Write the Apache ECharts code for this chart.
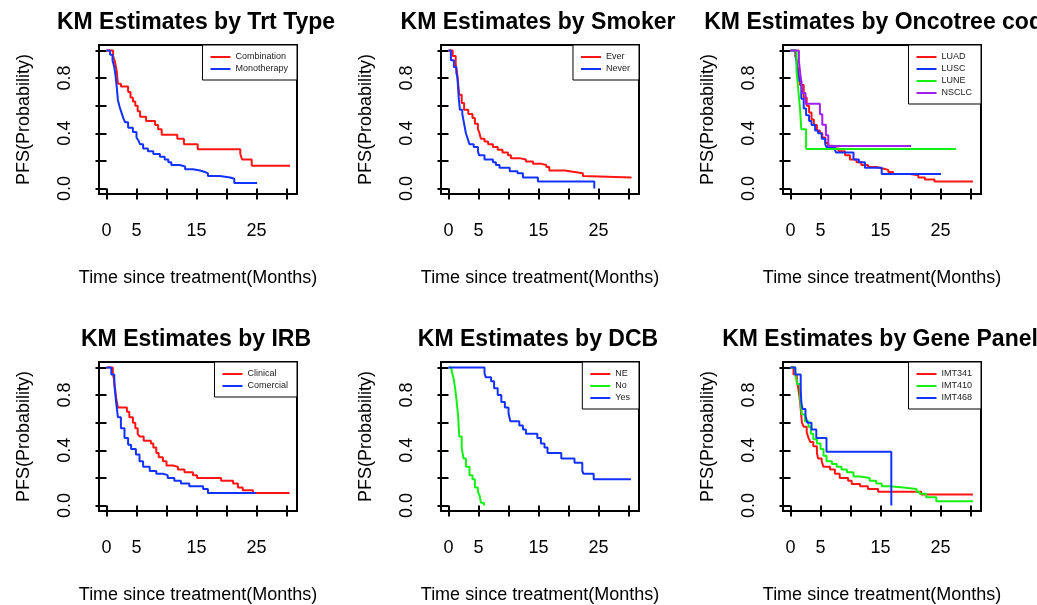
<!DOCTYPE html>
<html>
<head>
<meta charset="utf-8">
<script src="https://cdn.jsdelivr.net/npm/echarts@6/dist/echarts.min.js"></script>
<style>
  html, body { margin: 0; padding: 0; background: #fff; }
  #main { width: 1037px; height: 605px; }
</style>
</head>
<body>
<div id="main"></div>
<script>
// KM step points: [months, PFS probability]
const trtCombination = [[0,1],[1.1,0.96],[1.4,0.92],[1.7,0.85],[1.9,0.76],[2.4,0.74],[3.6,0.7],[4.0,0.66],[4.4,0.63],[4.8,0.6],[5.2,0.56],[5.6,0.52],[6.6,0.49],[8.1,0.46],[8.6,0.43],[9.2,0.39],[11.8,0.36],[12.9,0.32],[15.2,0.285],[22.3,0.25],[22.6,0.21],[24.2,0.165],[30.6,0.165]];
const trtMonotherapy = [[0,1],[0.6,0.97],[1.0,0.93],[1.3,0.88],[1.5,0.82],[1.7,0.74],[1.9,0.64],[2.2,0.59],[2.5,0.55],[2.8,0.51],[3.1,0.48],[3.6,0.44],[4.4,0.41],[5.0,0.37],[5.3,0.35],[5.6,0.32],[6.1,0.29],[6.9,0.27],[7.8,0.25],[8.9,0.23],[9.7,0.21],[10.3,0.19],[10.8,0.17],[12.2,0.16],[13.1,0.14],[14.4,0.13],[15.6,0.12],[16.4,0.11],[16.9,0.09],[18.9,0.08],[20.6,0.07],[21.3,0.04],[25.1,0.04]];

const smokerEver = [[0,1],[0.7,0.96],[1.2,0.9],[1.4,0.85],[1.6,0.76],[1.8,0.68],[2.2,0.62],[2.6,0.57],[3.3,0.54],[4.0,0.51],[4.4,0.47],[4.9,0.43],[5.1,0.41],[5.4,0.36],[6.0,0.34],[6.6,0.32],[7.4,0.3],[8.2,0.28],[9.0,0.26],[9.9,0.24],[10.4,0.22],[11.8,0.21],[12.9,0.195],[14.1,0.18],[15.4,0.17],[16.3,0.155],[16.8,0.13],[19.4,0.12],[21.0,0.11],[22.4,0.09],[22.7,0.08],[30.5,0.08]];
const smokerNever = [[0,1],[0.4,0.93],[0.9,0.88],[1.3,0.84],[1.5,0.8],[1.7,0.66],[1.9,0.57],[2.3,0.54],[2.6,0.47],[2.9,0.4],[3.2,0.36],[3.5,0.32],[4.2,0.3],[4.9,0.27],[5.1,0.24],[6.0,0.21],[7.4,0.19],[7.9,0.17],[8.5,0.15],[10.2,0.125],[11.5,0.11],[12.4,0.08],[14.9,0.05],[24.3,0]];

const oncoLUAD = [[0,1],[0.8,0.96],[1.05,0.93],[1.3,0.85],[1.6,0.75],[2.2,0.66],[2.7,0.6],[3.1,0.55],[3.5,0.5],[3.9,0.46],[4.4,0.42],[4.9,0.4],[5.3,0.37],[5.8,0.33],[6.3,0.31],[7.1,0.29],[8.0,0.27],[9.1,0.24],[9.9,0.21],[11.0,0.19],[11.8,0.17],[12.9,0.155],[14.3,0.145],[15.4,0.135],[16.3,0.12],[17.1,0.105],[19.9,0.095],[21.3,0.08],[22.4,0.065],[24.0,0.05],[30.4,0.05]];
const oncoLUSC = [[0,1],[0.9,0.95],[1.1,0.88],[1.4,0.78],[1.8,0.65],[2.2,0.58],[2.6,0.53],[3.1,0.49],[3.5,0.46],[4.1,0.42],[4.6,0.4],[5.2,0.36],[5.8,0.32],[6.0,0.3],[7.4,0.28],[7.6,0.26],[10.5,0.21],[11.4,0.19],[12.4,0.15],[15.2,0.105],[25.1,0.105]];
const oncoLUNE = [[0,1],[1.0,0.857],[1.3,0.714],[1.6,0.571],[1.8,0.429],[2.6,0.286],[27.6,0.286]];
const oncoNSCLC = [[0,1],[1.4,0.923],[1.6,0.846],[1.8,0.769],[2.0,0.692],[2.5,0.615],[4.9,0.538],[5.3,0.462],[5.9,0.385],[6.3,0.308],[20.1,0.308]];

const irbClinical = [[0,1],[1.05,0.96],[1.3,0.9],[1.6,0.78],[1.9,0.71],[3.4,0.68],[3.8,0.64],[4.4,0.6],[4.8,0.56],[5.2,0.52],[5.5,0.5],[6.2,0.47],[7.4,0.45],[7.8,0.42],[8.3,0.38],[8.7,0.35],[9.4,0.32],[10.0,0.29],[11.1,0.28],[11.9,0.26],[13.0,0.24],[14.4,0.22],[15.1,0.2],[19.1,0.18],[21.1,0.16],[21.9,0.13],[22.7,0.11],[24.4,0.09],[30.5,0.09]];
const irbComercial = [[0,1],[0.8,0.95],[1.3,0.88],[1.6,0.75],[1.9,0.64],[2.4,0.56],[3.0,0.49],[3.6,0.44],[4.1,0.41],[4.9,0.37],[5.5,0.32],[6.1,0.28],[7.2,0.25],[8.3,0.23],[9.4,0.22],[10.2,0.2],[11.3,0.18],[12.4,0.16],[13.8,0.14],[16.1,0.12],[16.9,0.09],[24.9,0.09]];

const dcbNE = [];
const dcbNo = [[0,1],[0.5,0.98],[0.8,0.93],[1.1,0.85],[1.3,0.78],[1.6,0.65],[1.8,0.5],[2.2,0.42],[2.5,0.34],[2.9,0.28],[3.5,0.22],[4.0,0.19],[4.4,0.13],[4.9,0.1],[5.2,0.07],[5.4,0.02],[5.9,0]];
const dcbYes = [[0,1],[6.0,0.96],[6.2,0.93],[7.1,0.9],[7.6,0.85],[8.2,0.8],[8.8,0.75],[9.4,0.71],[10.0,0.67],[10.3,0.61],[11.8,0.58],[12.4,0.55],[12.9,0.52],[14.8,0.49],[15.4,0.45],[16.0,0.42],[16.5,0.38],[18.8,0.34],[21.0,0.31],[22.3,0.25],[22.5,0.23],[24.2,0.19],[30.4,0.19]];

const geneIMT341 = [[0,1],[0.5,0.95],[1.05,0.9],[1.3,0.85],[1.6,0.75],[1.9,0.6],[2.2,0.57],[2.7,0.53],[3.0,0.49],[3.3,0.46],[3.8,0.43],[4.4,0.38],[4.6,0.34],[5.2,0.32],[5.5,0.28],[6.6,0.26],[7.4,0.23],[8.2,0.2],[9.6,0.18],[10.2,0.155],[11.6,0.14],[12.9,0.12],[14.6,0.1],[21.8,0.08],[30.4,0.08]];
const geneIMT410 = [[0,1],[0.8,0.95],[1.1,0.88],[1.6,0.78],[1.9,0.66],[2.4,0.61],[3.0,0.57],[3.4,0.52],[3.8,0.48],[4.4,0.45],[5.0,0.41],[5.5,0.36],[6.0,0.32],[6.9,0.3],[7.7,0.28],[8.5,0.26],[9.4,0.24],[10.5,0.21],[11.6,0.2],[13.2,0.18],[14.3,0.16],[15.2,0.14],[16.5,0.13],[18.8,0.12],[21.0,0.1],[21.5,0.085],[22.6,0.06],[24.3,0.03],[30.4,0.03]];
const geneIMT468 = [[0,1],[0.8,0.95],[1.7,0.85],[1.8,0.75],[2.0,0.7],[2.5,0.65],[2.8,0.6],[3.5,0.55],[4.3,0.49],[6.0,0.39],[16.8,0]];

const xTicks = [0, 5, 10, 15, 20, 25, 30];
const xLabels = [0, 5, 15, 25];
const yTicks = [0, 0.2, 0.4, 0.6, 0.8, 1.0];
const yLabels = [0, 0.4, 0.8];

const RED = '#ff1414', BLUE = '#1432ff', GREEN = '#14f014', PURPLE = '#a020f0';

const panels = [
  { title: 'KM Estimates by Trt Type', curves: [['Combination', trtCombination, RED], ['Monotherapy', trtMonotherapy, BLUE]] },
  { title: 'KM Estimates by Smoker', curves: [['Ever', smokerEver, RED], ['Never', smokerNever, BLUE]] },
  { title: 'KM Estimates by Oncotree code', curves: [['LUAD', oncoLUAD, RED], ['LUSC', oncoLUSC, BLUE], ['LUNE', oncoLUNE, GREEN], ['NSCLC', oncoNSCLC, PURPLE]] },
  { title: 'KM Estimates by IRB', curves: [['Clinical', irbClinical, RED], ['Comercial', irbComercial, BLUE]] },
  { title: 'KM Estimates by DCB', curves: [['NE', dcbNE, RED], ['No', dcbNo, GREEN], ['Yes', dcbYes, BLUE]] },
  { title: 'KM Estimates by Gene Panel', curves: [['IMT341', geneIMT341, RED], ['IMT410', geneIMT410, GREEN], ['IMT468', geneIMT468, BLUE]] }
];

const colLeft = [99, 441, 783];
const rowTop = [45, 362];
const boxW = 198, boxH = 149;
const FONT = '"Liberation Sans", Arial, Helvetica, sans-serif';

const option = {
  animation: false,
  backgroundColor: '#fff',
  title: [], grid: [], xAxis: [], yAxis: [], legend: [], series: []
};

panels.forEach(function (p, i) {
  const left = colLeft[i % 3];
  const top = rowTop[Math.floor(i / 3)];
  option.title.push({
    text: p.title, left: left + boxW / 2 - 2, top: top - 34, textAlign: 'center', padding: 0,
    textStyle: { fontFamily: FONT, fontSize: 23, fontWeight: 'bold', color: '#000' }
  });
  option.grid.push({
    left: left, top: top, width: boxW, height: boxH,
    show: true, borderColor: '#000', borderWidth: 2, backgroundColor: 'transparent'
  });
  option.xAxis.push({
    gridIndex: i, type: 'value', min: -1.25, max: 31.75,
    name: 'Time since treatment(Months)', nameLocation: 'middle', nameGap: 75,
    nameTextStyle: { fontFamily: FONT, fontSize: 18, color: '#000' },
    axisLine: { show: false },
    axisTick: { show: true, inside: false, length: 11, customValues: xTicks, lineStyle: { color: '#000', width: 2 } },
    axisLabel: { customValues: xLabels, margin: 28, fontFamily: FONT, fontSize: 18, color: '#000' },
    splitLine: { show: false }
  });
  option.yAxis.push({
    gridIndex: i, type: 'value', min: -0.04, max: 1.04,
    name: 'PFS(Probability)', nameLocation: 'middle', nameGap: 66, nameRotate: 90,
    nameTextStyle: { fontFamily: FONT, fontSize: 18, color: '#000' },
    axisLine: { show: false },
    axisTick: { show: true, inside: false, length: 11, customValues: yTicks, lineStyle: { color: '#000', width: 2 } },
    axisLabel: { customValues: yLabels, rotate: 90, margin: 25, fontFamily: FONT, fontSize: 18, color: '#000',
      formatter: function (v) { return v.toFixed(1); } },
    splitLine: { show: false }
  });
  option.legend.push({
    data: p.curves.map(function (c) { return c[0]; }),
    orient: 'vertical', right: 1037 - (left + boxW), top: top,
    icon: 'rect', itemWidth: 20, itemHeight: 2, itemGap: 0,
    padding: [6, 9, 5, 8],
    borderColor: '#000', borderWidth: 1, backgroundColor: '#fff',
    selectedMode: false,
    textStyle: { fontFamily: FONT, fontSize: 9, lineHeight: 12, color: '#222' }
  });
  p.curves.forEach(function (c) {
    option.series.push({
      name: c[0], type: 'line', step: 'end', xAxisIndex: i, yAxisIndex: i,
      data: c[1], color: c[2], showSymbol: false, symbol: 'none',
      lineStyle: { width: 2, color: c[2] }, itemStyle: { color: c[2] }
    });
  });
});

const chart = echarts.init(document.getElementById('main'));
chart.setOption(option);
</script>
</body>
</html>
